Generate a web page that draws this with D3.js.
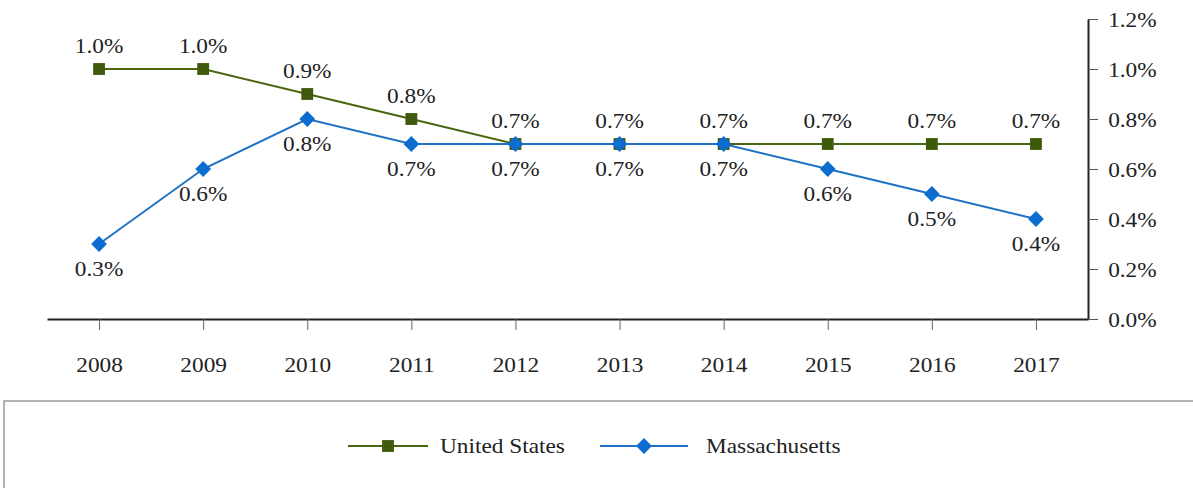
<!DOCTYPE html>
<html>
<head>
<meta charset="utf-8">
<script src="https://cdn.jsdelivr.net/npm/d3@7"></script>
<style>
  body { margin: 0; background: #fff; }
  svg text { font-family: "Liberation Serif", "Times New Roman", serif; fill: #222; }
</style>
</head>
<body>
<svg id="chart" width="1193" height="488"></svg>
<script>
const years = ["2008", "2009", "2010", "2011", "2012", "2013", "2014", "2015", "2016", "2017"];
const unitedStates = [1.0, 1.0, 0.9, 0.8, 0.7, 0.7, 0.7, 0.7, 0.7, 0.7];
const massachusetts = [0.3, 0.6, 0.8, 0.7, 0.7, 0.7, 0.7, 0.6, 0.5, 0.4];
const yTicks = [0, 0.2, 0.4, 0.6, 0.8, 1.0, 1.2];

// the source text is a touch wider than Liberation Serif
const stretch = 1.06;
const fontSize = "22px";

const svg = d3.select("#chart");
const margin = { left: 47, right: 1088, top: 19, bottom: 319 };

const x = d3.scalePoint().domain(years).range([margin.left, margin.right]).padding(0.5);
const y = d3.scaleLinear().domain([0, 1.2]).range([margin.bottom, margin.top]);

// x axis
const xAxis = svg.append("g")
  .attr("transform", `translate(0,${margin.bottom})`)
  .call(d3.axisBottom(x).tickSize(11).tickPadding(26).tickSizeOuter(0));
xAxis.select(".domain").attr("stroke", "#222").attr("stroke-width", 2);
xAxis.selectAll(".tick line").attr("stroke", "#666");
xAxis.selectAll("text")
  .style("font-size", fontSize).attr("fill", "#222")
  .attr("transform", `scale(${stretch},1)`);

// right y axis
const yAxis = svg.append("g")
  .attr("transform", `translate(${margin.right},0)`)
  .call(d3.axisRight(y).tickValues(yTicks).tickSize(10).tickPadding(9)
    .tickFormat(d => d.toFixed(1) + "%").tickSizeOuter(0));
yAxis.select(".domain").attr("stroke", "#222").attr("stroke-width", 2);
yAxis.selectAll(".tick line").attr("stroke", "#555");
yAxis.selectAll("text")
  .style("font-size", fontSize).attr("fill", "#222")
  .attr("transform", `scale(${stretch},1)`);

const diamond = d3.symbol().type(d3.symbolSquare).size(125);
const series = [
  { name: "United States", values: unitedStates, color: "#4a6510", marker: "#3f5a0c", sym: d3.symbol().type(d3.symbolSquare).size(140), rot: 0, above: true },
  { name: "Massachusetts", values: massachusetts, color: "#1f72c6", marker: "#0d6cd0", sym: diamond, rot: 45, above: false }
];

const line = d3.line().x((d, i) => x(years[i])).y(d => y(d));

series.forEach(s => {
  svg.append("path")
    .datum(s.values)
    .attr("fill", "none")
    .attr("stroke", s.color)
    .attr("stroke-width", 2)
    .attr("d", line);
});

series.forEach(s => {
  svg.append("g").selectAll("path")
    .data(s.values)
    .join("path")
    .attr("transform", (d, i) => `translate(${x(years[i])},${y(d)}) rotate(${s.rot})`)
    .attr("d", s.sym)
    .attr("fill", s.marker);

  svg.append("g").selectAll("text")
    .data(s.values)
    .join("text")
    .attr("transform", (d, i) => `translate(${x(years[i])},${y(d) + (s.above ? -16 : 32)}) scale(${stretch},1)`)
    .attr("text-anchor", "middle")
    .style("font-size", fontSize)
    .text(d => d.toFixed(1) + "%");
});

// legend box
svg.append("rect")
  .attr("x", 4).attr("y", 401)
  .attr("width", 1195).attr("height", 100)
  .attr("fill", "#fff")
  .attr("stroke", "#999")
  .attr("stroke-width", 1.5);

const legendItems = [
  { s: series[0], x0: 348, x1: 428, tx: 440 },
  { s: series[1], x0: 600, x1: 688, tx: 706 }
];
const ly = 446;
legendItems.forEach(item => {
  const g = svg.append("g");
  g.append("line")
    .attr("x1", item.x0).attr("x2", item.x1)
    .attr("y1", ly).attr("y2", ly)
    .attr("stroke", item.s.color).attr("stroke-width", 2);
  g.append("path")
    .attr("transform", `translate(${(item.x0 + item.x1) / 2},${ly}) rotate(${item.s.rot})`)
    .attr("d", item.s.sym)
    .attr("fill", item.s.marker);
  g.append("text")
    .attr("transform", `translate(${item.tx},${ly + 7}) scale(${stretch},1)`)
    .style("font-size", fontSize)
    .text(item.s.name);
});
</script>
</body>
</html>
